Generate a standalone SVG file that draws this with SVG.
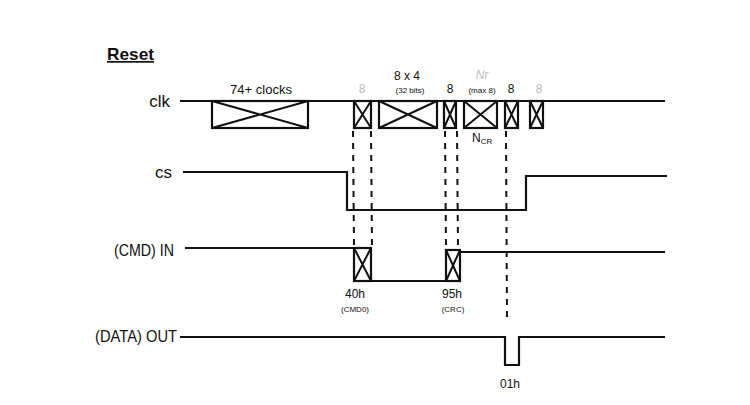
<svg xmlns="http://www.w3.org/2000/svg" width="750" height="405" viewBox="0 0 750 405">
<style>
.sig{fill:none;stroke:#111;stroke-width:2.2}
.box{fill:#fff;stroke:#111;stroke-width:2.2}
.x{stroke:#111;stroke-width:2}
.dash{fill:none;stroke:#111;stroke-width:2;stroke-dasharray:6 6}
.lbl{font-family:"Liberation Sans",Arial,sans-serif;font-size:17px;fill:#111}
.sm{font-family:"Liberation Sans",Arial,sans-serif;font-size:12px;fill:#111}
.tiny{font-family:"Liberation Sans",Arial,sans-serif;font-size:8px;fill:#111}
.faint{font-family:"Liberation Sans",Arial,sans-serif;font-size:12px;fill:#bbb}
</style>
<rect width="750" height="405" fill="#fff"/>
<g id="title">
<text x="107" y="60" class="lbl" font-size="18" font-weight="bold" text-decoration="underline" textLength="47" lengthAdjust="spacingAndGlyphs">Reset</text>
</g>
<g id="clk">
<text x="170" y="107" class="lbl" text-anchor="end">clk</text>
<path class="sig" d="M180 101 H665"/>
<rect class="box" x="212" y="101" width="96" height="27"/>
<path class="x" d="M212 101 L308 128 M308 101 L212 128"/>
<rect class="box" x="354" y="101" width="17" height="27"/>
<path class="x" d="M354 101 L371 128 M371 101 L354 128"/>
<rect class="box" x="379" y="101" width="58" height="27"/>
<path class="x" d="M379 101 L437 128 M437 101 L379 128"/>
<rect class="box" x="444" y="101" width="12" height="27"/>
<path class="x" d="M444 101 L456 128 M456 101 L444 128"/>
<rect class="box" x="464" y="101" width="33" height="27"/>
<path class="x" d="M464 101 L497 128 M497 101 L464 128"/>
<rect class="box" x="505" y="101" width="13" height="27"/>
<path class="x" d="M505 101 L518 128 M518 101 L505 128"/>
<rect class="box" x="530" y="101" width="13" height="27"/>
<path class="x" d="M530 101 L543 128 M543 101 L530 128"/>
<text x="261" y="94" class="sm" font-size="13" text-anchor="middle" textLength="62" lengthAdjust="spacingAndGlyphs">74+ clocks</text>
<text x="362" y="93" class="faint" text-anchor="middle">8</text>
<text x="407" y="80" class="sm" text-anchor="middle">8 x 4</text>
<text x="410" y="93" class="tiny" text-anchor="middle">(32 bits)</text>
<text x="450" y="93" class="sm" text-anchor="middle">8</text>
<text x="482" y="79" class="faint" font-style="italic" text-anchor="middle">Nr</text>
<text x="482" y="93" class="tiny" text-anchor="middle">(max 8)</text>
<text x="511" y="93" class="sm" text-anchor="middle">8</text>
<text x="539" y="93" class="faint" text-anchor="middle">8</text>
<text x="472" y="142" class="sm">N<tspan font-size="8" dy="2">CR</tspan></text>
</g>
<g id="cs">
<text x="172" y="178" class="lbl" text-anchor="end">cs</text>
<path class="sig" d="M183 172 H347 V210 H526 V176 H667"/>
</g>
<g id="cmd-in">
<text x="114" y="256" class="lbl" textLength="60" lengthAdjust="spacingAndGlyphs">(CMD) IN</text>
<path class="sig" d="M185 248 H354 M371 281 H446 M460 252 H665"/>
<rect class="box" x="354" y="248" width="17" height="33"/>
<path class="x" d="M354 248 L371 281 M371 248 L354 281"/>
<rect class="box" x="446" y="250" width="14" height="31"/>
<path class="x" d="M446 250 L460 281 M460 250 L446 281"/>
<text x="355" y="298" class="sm" text-anchor="middle">40h</text>
<text x="355" y="312" class="tiny" text-anchor="middle">(CMD0)</text>
<text x="452" y="298" class="sm" text-anchor="middle">95h</text>
<text x="453" y="312" class="tiny" text-anchor="middle">(CRC)</text>
</g>
<g id="data-out">
<text x="95" y="342" class="lbl" textLength="82" lengthAdjust="spacingAndGlyphs">(DATA) OUT</text>
<path class="sig" d="M180 337 H505 V365 H519 V337 H665"/>
<text x="510" y="388" class="sm" font-size="13" text-anchor="middle">01h</text>
</g>
<g id="connectors">
<path class="dash" d="M353 131 L354 247"/>
<path class="dash" d="M371 131 L372 247"/>
<path class="dash" d="M445 131 L446 249"/>
<path class="dash" d="M457 131 L458 249"/>
<path class="dash" d="M506 131 L507 322"/>
</g>
</svg>
